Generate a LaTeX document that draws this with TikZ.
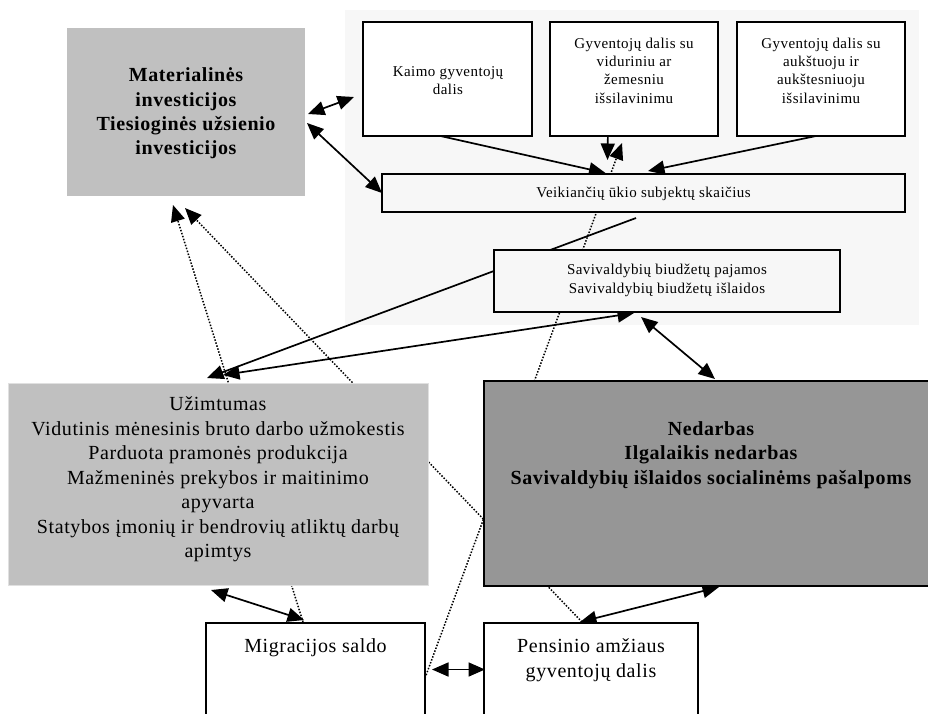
\documentclass[tikz,border=0pt]{standalone}
\usepackage{fontspec}
\setmainfont{Liberation Serif}[LetterSpace=3]
\usetikzlibrary{arrows.meta}
\pgfdeclarelayer{bglayer}
\pgfdeclarelayer{connlayer}
\pgfsetlayers{bglayer,connlayer,main}
\definecolor{panelgray}{HTML}{F7F7F7}
\definecolor{matgray}{HTML}{C0C0C0}
\definecolor{nedgray}{HTML}{969696}
\begin{document}
\begin{tikzpicture}[x=1pt,y=-1pt,
  box/.style={draw=black, line width=1.6pt, inner sep=0pt, outer sep=0pt, anchor=north west},
  txt/.style={inner sep=0pt, align=center},
  smalltxt/.style={font=\fontsize{15}{18.3}\selectfont},
  bigtxt/.style={font=\fontsize{20}{24.5}\selectfont},
  boldtxt/.style={font=\fontsize{20}{24.3}\selectfont\bfseries},
  dbl/.style={line width=1.7pt, {Triangle[length=16.5pt,width=14pt]}-{Triangle[length=16.5pt,width=14pt]}},
  one/.style={line width=1.7pt, -{Triangle[length=16.5pt,width=14pt]}},
  dotarrow/.style={line width=1.5pt, dash pattern=on 1.5pt off 1.6pt, -{Triangle[length=16.5pt,width=14pt]}},
  dotline/.style={line width=1.5pt, dash pattern=on 1.5pt off 1.6pt}]
\clip (0,0) rectangle (928,713);
\begin{pgfonlayer}{bglayer}
  \fill[white] (0,0) rectangle (928,713);
  \node[box, draw=none, fill=panelgray, minimum width=574pt, minimum height=315pt] (panel) at (345,10) {};
\end{pgfonlayer}

% boxes
\node[box, draw=none, fill=matgray, minimum width=238pt, minimum height=168pt] (mat) at (67,28) {};
\node[box, fill=white, minimum width=169pt, minimum height=114pt] (kaimo) at (363,22) {};
\node[box, fill=white, minimum width=168pt, minimum height=114pt] (gvid) at (550,22) {};
\node[box, fill=white, minimum width=168pt, minimum height=114pt] (gauk) at (737,22) {};
\node[box, fill=panelgray, minimum width=523pt, minimum height=38pt] (veik) at (382,174) {};
\node[box, fill=panelgray, minimum width=346pt, minimum height=62pt] (sav) at (494,250) {};
\node[box, draw=black!12, line width=0.8pt, fill=matgray, minimum width=420pt, minimum height=202pt] (uzim) at (8,383) {};
\node[box, fill=nedgray, minimum width=460pt, minimum height=205pt] (ned) at (484,381) {};
\node[box, fill=white, minimum width=219pt, minimum height=110pt] (migr) at (206,623) {};
\node[box, fill=white, minimum width=214pt, minimum height=110pt] (pens) at (484,623) {};

% texts
\node[txt, boldtxt] (tmat) at (186,113.5) {Materialinės\\investicijos\\Tiesioginės užsienio\\investicijos};
\node[txt, smalltxt] (tkaimo) at (448,80.5) {Kaimo gyventojų\\dalis};
\node[txt, smalltxt] (tgvid) at (634,70.5) {Gyventojų dalis su\\viduriniu ar\\žemesniu\\išsilavinimu};
\node[txt, smalltxt] (tgauk) at (821,70.5) {Gyventojų dalis su\\aukštuoju ir\\aukštesniuoju\\išsilavinimu};
\node[txt, smalltxt] (tveik) at (643.5,194) {Veikiančių ūkio subjektų skaičius};
\node[txt, smalltxt] (tsav) at (667,280.5) {Savivaldybių biudžetų pajamos\\Savivaldybių biudžetų išlaidos};
\node[txt, bigtxt] (tuzim) at (218,479.5) {Užimtumas\\Vidutinis mėnesinis bruto darbo užmokestis\\Parduota pramonės produkcija\\Mažmeninės prekybos ir maitinimo\\apyvarta\\Statybos įmonių ir bendrovių atliktų darbų\\apimtys};
\node[txt, boldtxt] (tned) at (711,455) {Nedarbas\\Ilgalaikis nedarbas\\Savivaldybių išlaidos socialinėms pašalpoms};
\node[txt, bigtxt] (tmigr) at (315.5,648) {Migracijos saldo};
\node[txt, bigtxt] (tpens) at (591,660) {Pensinio amžiaus\\gyventojų dalis};

% connectors (behind boxes)
\begin{pgfonlayer}{connlayer}
  \draw[dbl] ([shift={(3,2)}]mat.east) -- ([shift={(-9,18)}]kaimo.west);
  \draw[dbl] ([shift={(2,11)}]mat.east) -- (veik.west);
  \draw[one] ([shift={(-7,0)}]kaimo.south) -- ([shift={(-38,-1)}]veik.north);
  \draw[one] ([shift={(-26,-7)}]gvid.south) -- ([shift={(-36,-14)}]veik.north);
  \draw[one] ([shift={(-5,0)}]gauk.south) -- ([shift={(4.5,-3)}]veik.north);
  \draw[dotarrow] (migr.east) -- ([shift={(-12,7)}]gvid.south);
  \draw[one] ([shift={(-7.5,6)}]veik.south) -- ([shift={(-11,-5)}]uzim.north);
  \draw[dbl] ([shift={(5,-8)}]uzim.north) -- ([shift={(-33,1)}]sav.south);
  \draw[dbl] ([shift={(-26,5)}]sav.south) -- ([shift={(1,-2)}]ned.north);
  \draw[dotarrow] ([shift={(-12.5,-1)}]migr.north) -- ([shift={(-13,9)}]mat.south);
  \draw[dotarrow] ([shift={(-9,-1)}]pens.north) -- ([shift={(-1,12)}]mat.south);
  \draw[dbl] ([shift={(-7,5)}]uzim.south) -- ([shift={(-11.5,-3)}]migr.north);
  \draw[dbl] ([shift={(7,-8.5)}]migr.east) -- ([shift={(1,-8.5)}]pens.west);
  \draw[dbl] ([shift={(5,1)}]ned.south) -- ([shift={(-11,-1)}]pens.north);
\end{pgfonlayer}
\end{tikzpicture}
\end{document}
